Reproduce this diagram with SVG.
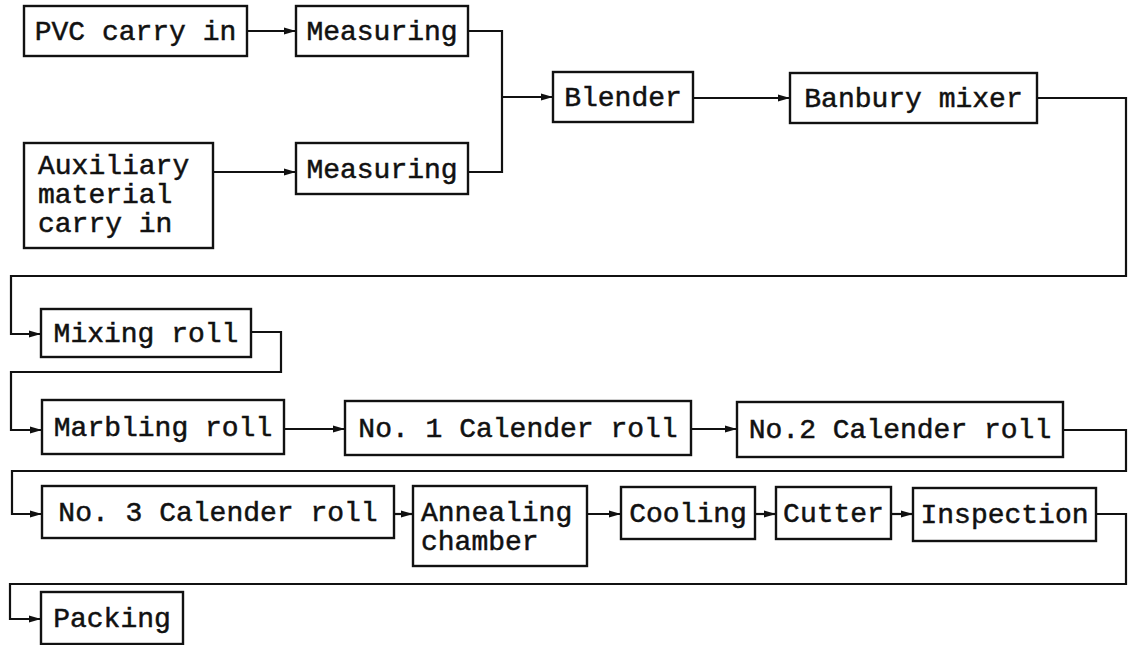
<svg xmlns="http://www.w3.org/2000/svg" width="1128" height="645" viewBox="0 0 1128 645">
<style>
.box{fill:#fff;stroke:#111;stroke-width:2.4}
.lbl{font-family:"Liberation Mono","DejaVu Sans Mono",monospace;font-size:28px;fill:#111;stroke:#111;stroke-width:0.5}
.c{text-anchor:middle}
.wire{fill:none;stroke:#111;stroke-width:2.2}
</style>
<defs>
<marker id="ah" markerWidth="13" markerHeight="8" refX="12" refY="4" orient="auto" markerUnits="userSpaceOnUse">
<path d="M0,0.5 L12,4 L0,7.5 z" fill="#111"/>
</marker>
</defs>
<rect width="1128" height="645" fill="#fff"/>
<g id="connectors">
<path class="wire" d="M247,31 H296" marker-end="url(#ah)"/>
<path class="wire" d="M468,31 H502 V172 H468"/>
<path class="wire" d="M502,97 H553" marker-end="url(#ah)"/>
<path class="wire" d="M213,172 H296" marker-end="url(#ah)"/>
<path class="wire" d="M693,98 H790" marker-end="url(#ah)"/>
<path class="wire" d="M1037,98 H1126 V276 H11 V334 H41" marker-end="url(#ah)"/>
<path class="wire" d="M251,332 H281 V372 H11 V430 H42" marker-end="url(#ah)"/>
<path class="wire" d="M284,429 H345" marker-end="url(#ah)"/>
<path class="wire" d="M691,429 H737" marker-end="url(#ah)"/>
<path class="wire" d="M1063,430 H1126 V471 H12 V514 H42" marker-end="url(#ah)"/>
<path class="wire" d="M394,514 H413" marker-end="url(#ah)"/>
<path class="wire" d="M587,514 H621" marker-end="url(#ah)"/>
<path class="wire" d="M755,514 H776" marker-end="url(#ah)"/>
<path class="wire" d="M891,514 H913" marker-end="url(#ah)"/>
<path class="wire" d="M1096,514 H1126 V584 H10 V619 H41" marker-end="url(#ah)"/>
</g>
<g id="pvc"><rect class="box" x="24" y="6" width="223" height="50"/><text class="lbl c" x="135.5" y="40">PVC carry in</text></g>
<g id="measuring1"><rect class="box" x="296" y="6" width="172" height="50"/><text class="lbl c" x="382" y="40">Measuring</text></g>
<g id="aux"><rect class="box" x="24" y="143" width="189" height="105"/>
<text class="lbl" x="38" y="174">Auxiliary</text><text class="lbl" x="38" y="203">material</text><text class="lbl" x="38" y="232">carry in</text></g>
<g id="measuring2"><rect class="box" x="296" y="143" width="172" height="51"/><text class="lbl c" x="382" y="178">Measuring</text></g>
<g id="blender"><rect class="box" x="553" y="72" width="140" height="50"/><text class="lbl c" x="623" y="106">Blender</text></g>
<g id="banbury"><rect class="box" x="790" y="73" width="247" height="50"/><text class="lbl c" x="913.5" y="107">Banbury mixer</text></g>
<g id="mixing"><rect class="box" x="41" y="309" width="210" height="48"/><text class="lbl c" x="146" y="342">Mixing roll</text></g>
<g id="marbling"><rect class="box" x="42" y="400" width="242" height="54"/><text class="lbl c" x="163" y="436">Marbling roll</text></g>
<g id="cal1"><rect class="box" x="345" y="401" width="346" height="54"/><text class="lbl c" x="518" y="437">No. 1 Calender roll</text></g>
<g id="cal2"><rect class="box" x="737" y="402" width="326" height="55"/><text class="lbl c" x="900" y="438">No.2 Calender roll</text></g>
<g id="cal3"><rect class="box" x="42" y="486" width="352" height="52"/><text class="lbl c" x="218" y="521">No. 3 Calender roll</text></g>
<g id="annealing"><rect class="box" x="413" y="486" width="174" height="80"/>
<text class="lbl" x="421" y="521">Annealing</text><text class="lbl" x="421" y="550">chamber</text></g>
<g id="cooling"><rect class="box" x="621" y="487" width="134" height="52"/><text class="lbl c" x="688" y="522">Cooling</text></g>
<g id="cutter"><rect class="box" x="776" y="487" width="115" height="52"/><text class="lbl c" x="833.5" y="522">Cutter</text></g>
<g id="inspection"><rect class="box" x="913" y="488" width="183" height="53"/><text class="lbl c" x="1004.5" y="523">Inspection</text></g>
<g id="packing"><rect class="box" x="41" y="592" width="142" height="52"/><text class="lbl c" x="112" y="627">Packing</text></g>
</svg>
